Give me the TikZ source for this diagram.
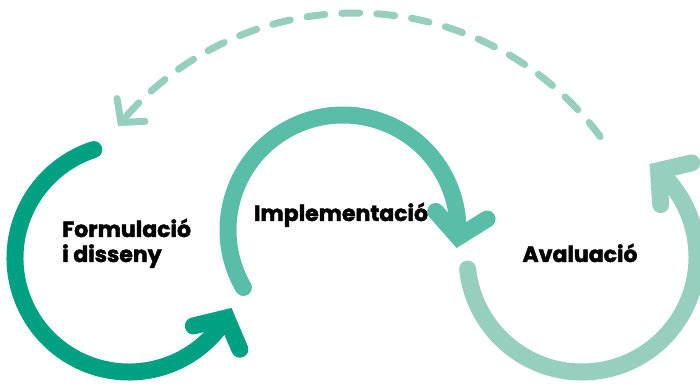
\documentclass[tikz,border=0pt]{standalone}
\usepackage{fontspec}
\setmainfont{Poppins}[BoldFeatures={FakeBold=2}]
\usetikzlibrary{arrows.meta,bending}
\definecolor{verdfosc}{RGB}{0,160,130}
\definecolor{verdmig}{RGB}{90,189,168}
\definecolor{verdclar}{RGB}{150,207,192}
\begin{document}
\begin{tikzpicture}[x=1pt,y=1pt,
    cicle/.style={line width=17pt,line cap=round,-{Straight Barb[length=22pt,width=52pt,line cap=round,line join=miter,flex]}},
    tornada/.style={line width=7pt,line cap=round,dash pattern=on 18pt off 17pt,color=verdclar,-{Straight Barb[length=16pt,width=36pt,line cap=round,line join=miter,flex]}},
    etiqueta/.style={font=\bfseries\fontsize{22}{25}\selectfont,inner sep=0pt,align=left}]
  \useasboundingbox (0,0) rectangle (700,385);
  % centres dels cercles
  \coordinate (c1) at (129,127);
  \coordinate (c2) at (343,155);
  \coordinate (c3) at (582,128);
  \coordinate (c4) at (355,67);
  \node[etiqueta,anchor=base west] (form) at (62,123) {Formulació\\i disseny};
  \node[etiqueta,anchor=base] (impl) at (341,164) {Implementació};
  \node[etiqueta,anchor=base] (aval) at (580,123) {Avaluació};
  \draw[cicle,verdfosc] ([shift={(108:114)}]c1) arc[start angle=108,end angle=334,radius=114];
  \draw[cicle,verdmig] ([shift={(210:115)}]c2) arc[start angle=210,end angle=-9,radius=115];
  \draw[cicle,verdclar] ([shift={(186:115)}]c3) arc[start angle=186,end angle=414,radius=115];
  \draw[tornada] ([shift={(36.5:305)}]c4) arc[start angle=36.5,end angle=141,radius=305];
\end{tikzpicture}
\end{document}
